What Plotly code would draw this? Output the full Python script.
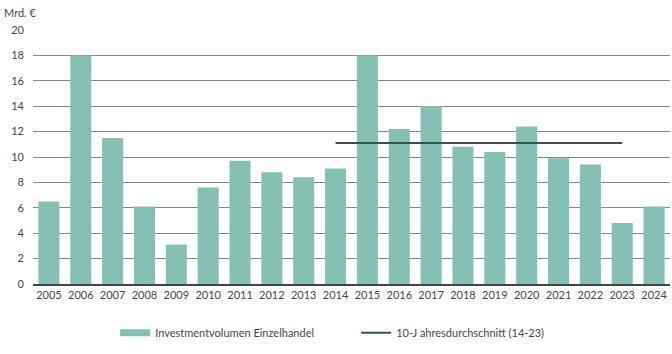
import plotly.graph_objects as go

years = [str(y) for y in range(2005, 2025)]
volumes = [6.5, 18.0, 11.5, 6.1, 3.1, 7.6, 9.7, 8.8, 8.4, 9.1,
           18.0, 12.2, 14.0, 10.8, 10.4, 12.4, 9.9, 9.4, 4.8, 6.1]
avg_years = [str(y) for y in range(2014, 2024)]
avg_value = 11.1
avg_values = [avg_value] * len(avg_years)
y_ticks = [0, 2, 4, 6, 8, 10, 12, 14, 16, 18, 20]

bar_color = "#84c1b4"
line_color = "#3d5050"

fig = go.Figure()
fig.add_trace(go.Bar(
    x=years, y=volumes, name="Investmentvolumen Einzelhandel",
    marker=dict(color=bar_color, line=dict(width=0)), showlegend=False,
))
# legend-only entry drawn as a wide rectangle
fig.add_trace(go.Scatter(
    x=[None], y=[None], mode="lines", name="Investmentvolumen Einzelhandel",
    line=dict(color=bar_color, width=7),
))
fig.add_trace(go.Scatter(
    x=avg_years, y=avg_values, mode="lines",
    name="10-J ahresdurchschnitt (14-23)",
    line=dict(color=line_color, width=2),
))

fig.update_layout(
    width=672, height=354,
    margin=dict(l=33, r=2, t=30, b=70),
    paper_bgcolor="white", plot_bgcolor="white",
    font=dict(family="Lato, Open Sans, sans-serif", size=11, color="#404848"),
    bargap=0.34,
    showlegend=True,
    legend=dict(orientation="h", x=0.129, xanchor="left",
                yref="container", y=0.06, yanchor="middle",
                font=dict(size=11), itemwidth=30, tracegroupgap=0,
                entrywidthmode="pixels", entrywidth=196),
    xaxis=dict(type="category", showgrid=False, ticks="", tickfont=dict(size=11),
               showline=True, linecolor="#3d4848", linewidth=1.5),
    yaxis=dict(range=[0, 20], tickvals=y_ticks, showgrid=True, gridcolor="#888888",
               gridwidth=1, zeroline=False, ticks="", tickfont=dict(size=11),
               ticklabelstandoff=8),
)
fig.add_annotation(text="Mrd. €", xref="paper", yref="paper", x=-0.048, y=1.067,
                   xanchor="left", yanchor="middle", showarrow=False,
                   font=dict(size=11, color="#404848"))
fig.write_html("out.html")
